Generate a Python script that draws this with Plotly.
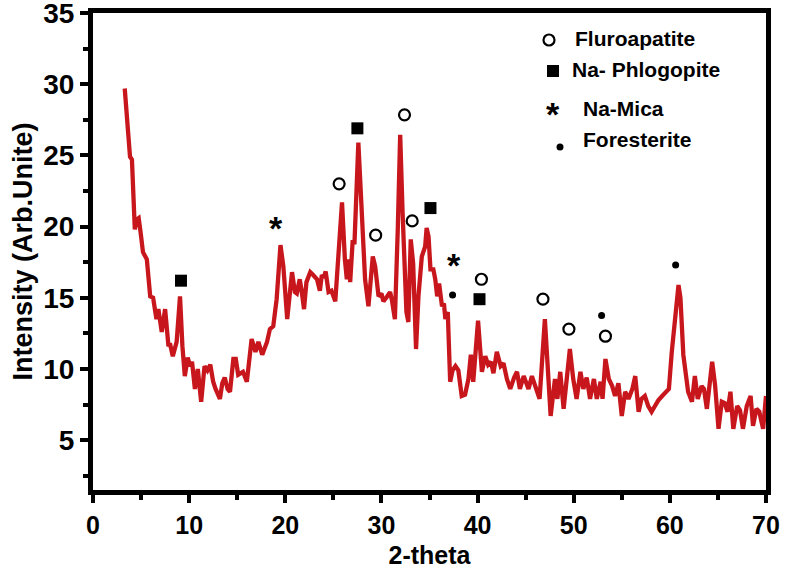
import plotly.graph_objects as go

# ---- XRD pattern ----
two_theta = [3.3, 3.6, 3.85, 4.05, 4.35, 4.55, 4.75, 4.95, 5.2, 5.6, 5.95, 6.25, 6.6, 6.8, 7.15, 7.5, 7.7, 7.85, 8.0, 8.3,
             8.7, 9.05, 9.3, 9.55, 9.85, 10.1, 10.3, 10.6, 10.9, 11.25, 11.6, 11.9, 12.2, 12.5, 12.75, 13.2, 13.45, 13.7, 14.0, 14.25,
             14.6, 14.85, 15.1, 15.6, 16.0, 16.5, 16.9, 17.2, 17.6, 18.1, 18.4, 18.75, 19.1, 19.5, 19.8, 20.2, 20.7, 21.0, 21.2, 21.5,
             21.7, 21.95, 22.2, 22.6, 22.9, 23.3, 23.6, 23.8, 24.0, 24.2, 24.5, 24.8, 25.2, 25.35, 25.5, 25.9, 26.2, 26.4, 26.6, 26.75,
             27.0, 27.2, 27.6, 27.95, 28.3, 28.65, 29.1, 29.35, 29.7, 30.0, 30.2, 30.5, 30.9, 31.1, 31.4, 31.7, 31.95, 32.2, 32.6, 32.8,
             33.05, 33.3, 33.6, 33.85, 34.2, 34.55, 34.7, 34.9, 35.1, 35.4, 35.6, 35.8, 36.0, 36.3, 36.5, 36.65, 36.9, 37.15, 37.4, 37.7,
             38.0, 38.35, 38.7, 39.05, 39.3, 39.55, 40.05, 40.45, 40.8, 41.1, 41.4, 41.65, 42.0, 42.4, 42.7, 43.05, 43.4, 43.8, 44.1, 44.4,
             44.8, 45.3, 45.65, 46.2, 46.45, 47.0, 47.35, 47.6, 48.05, 48.3, 48.6, 48.95, 49.6, 49.95, 50.3, 50.7, 51.0, 51.35, 51.7, 52.1,
             52.4, 52.8, 53.0, 53.3, 53.65, 54.0, 54.3, 54.65, 55.0, 55.35, 55.7, 56.1, 56.4, 56.75, 57.05, 57.4, 57.75, 58.1, 58.45, 58.8,
             59.2, 59.55, 59.9, 60.2, 60.55, 60.9, 61.1, 61.4, 61.9, 62.3, 62.6, 62.9, 63.3, 63.55, 63.85, 64.4, 64.7, 65.06, 65.4, 65.7,
             66.0, 66.3, 66.6, 67.0, 67.3, 67.6, 68.0, 68.4, 68.65, 69.0, 69.3, 69.7, 70.0]
intensity = [29.7, 27.2, 24.9, 24.7, 19.8, 20.5, 20.6, 19.6, 18.2, 17.7, 15.1, 15.0, 13.5, 14.2, 12.6, 14.2, 12.1, 11.6, 11.8, 10.9,
             11.9, 15.1, 11.6, 9.5, 10.8, 10.2, 10.5, 8.6, 10.0, 7.7, 10.2, 9.9, 10.3, 9.1, 8.6, 7.9, 9.0, 9.4, 8.6, 8.4,
             10.7, 10.7, 9.6, 9.8, 9.1, 12.1, 11.2, 11.9, 11.0, 11.9, 12.8, 13.0, 14.9, 18.7, 17.2, 13.5, 16.8, 15.4, 15.3, 16.3,
             15.5, 14.2, 16.1, 16.8, 16.6, 16.3, 15.5, 16.6, 16.4, 16.85, 15.4, 15.5, 14.75, 16.3, 17.0, 21.7, 17.7, 16.3, 17.7, 16.1,
             18.9, 18.9, 25.9, 21.0, 16.3, 14.4, 17.9, 17.2, 15.1, 15.3, 14.75, 15.0, 15.4, 14.8, 13.5, 19.8, 26.45, 21.0, 14.0, 13.3,
             19.1, 17.4, 11.4, 15.1, 17.9, 18.6, 19.9, 19.3, 17.0, 17.0, 16.3, 15.1, 16.0, 14.4, 14.6, 13.5, 14.0, 9.1, 9.9, 10.2,
             9.9, 8.1, 8.2, 9.3, 11.0, 9.1, 13.4, 9.8, 10.9, 10.3, 10.5, 9.7, 11.2, 10.2, 10.4, 9.3, 8.6, 9.4, 9.8, 8.6,
             9.5, 8.6, 9.5, 8.4, 7.9, 13.5, 9.8, 6.7, 9.3, 7.9, 9.8, 7.2, 11.4, 9.3, 7.9, 9.8, 8.6, 9.4, 7.9, 9.3,
             7.9, 9.1, 7.9, 10.7, 9.3, 8.8, 8.1, 9.0, 6.7, 8.4, 7.9, 8.6, 9.5, 7.0, 7.9, 8.1, 7.4, 7.0, 7.4, 7.8,
             8.1, 8.4, 8.6, 11.2, 14.0, 15.9, 15.0, 11.0, 8.4, 7.7, 9.5, 7.9, 8.8, 8.6, 7.2, 10.5, 8.9, 5.8, 7.7, 7.6,
             7.0, 8.4, 5.8, 7.4, 7.1, 5.8, 7.4, 8.1, 6.0, 7.2, 7.0, 5.8, 8.1]

# ---- phase identification marks ----
fluoro_x = [25.6, 29.4, 32.4, 33.2, 40.4, 46.8, 49.5, 53.3]
fluoro_y = [23.0, 19.4, 27.85, 20.4, 16.3, 14.9, 12.8, 12.3]
phlog_x = [9.15, 27.5, 35.1, 40.2]
phlog_y = [16.2, 26.9, 21.3, 14.9]
mica_x = [19.0, 37.5]
mica_y = [20.2, 17.55]
forst_x = [37.4, 52.9, 60.6]
forst_y = [15.2, 13.75, 17.3]

legend_labels = ["Fluroapatite", "Na- Phlogopite", "Na-Mica", "Foresterite"]

x_ticks = [0, 10, 20, 30, 40, 50, 60, 70]
y_ticks = [5, 10, 15, 20, 25, 30, 35]

FONT = "Liberation Sans"
W, H = 787, 569
ML, MR, MT, MB = 93, 21, 13, 79
PW, PH = W - ML - MR, H - MT - MB


def px(xp):  # page pixel -> paper x
    return (xp - ML) / PW


def py(yp):  # page pixel -> paper y
    return (H - MB - yp) / PH


fig = go.Figure()
fig.add_trace(go.Scatter(x=two_theta, y=intensity, mode="lines",
                         line=dict(color="#C8161D", width=4.3), hoverinfo="skip"))
fig.add_trace(go.Scatter(x=fluoro_x, y=fluoro_y, mode="markers",
                         marker=dict(symbol="circle-open", size=11, color="black", line=dict(width=2.2, color="black"))))
fig.add_trace(go.Scatter(x=phlog_x, y=phlog_y, mode="markers",
                         marker=dict(symbol="square", size=12, color="black")))
fig.add_trace(go.Scatter(x=forst_x, y=forst_y, mode="markers",
                         marker=dict(symbol="circle", size=7, color="black")))

annotations = []
for mx, my in zip(mica_x, mica_y):
    annotations.append(dict(x=mx, y=my, xref="x", yref="y", text="<b>*</b>", showarrow=False,
                            xanchor="center", yanchor="middle",
                            font=dict(family=FONT, size=34, color="black"), yshift=-4))

# legend (drawn as text + shapes in paper coordinates)
shapes = []
shapes.append(dict(type="circle", xref="paper", yref="paper", x0=px(543.5), x1=px(554.5), y0=py(45.5), y1=py(34.5),
                   line=dict(color="black", width=2.2)))
shapes.append(dict(type="rect", xref="paper", yref="paper", x0=px(547), x1=px(559), y0=py(77), y1=py(65),
                   line=dict(width=0), fillcolor="black"))
shapes.append(dict(type="circle", xref="paper", yref="paper", x0=px(556.5), x1=px(563.5), y0=py(150.5), y1=py(143.5),
                   line=dict(width=0), fillcolor="black"))
annotations.append(dict(x=px(553), y=py(110), xref="paper", yref="paper", text="<b>*</b>", showarrow=False,
                        xanchor="center", yanchor="middle",
                        font=dict(family=FONT, size=34, color="black"), yshift=-4))
leg_pos = [(573, 39), (570, 69), (581, 109), (581, 139)]
for lab, (lx, ly) in zip(legend_labels, leg_pos):
    annotations.append(dict(x=px(lx), y=py(ly), xref="paper", yref="paper", text="<b>" + lab + "</b>",
                            showarrow=False, xanchor="left", yanchor="middle",
                            font=dict(family=FONT, size=21, color="black")))

fig.update_layout(
    width=W, height=H,
    margin=dict(l=ML, r=MR, t=MT, b=MB, autoexpand=False),
    paper_bgcolor="white", plot_bgcolor="white",
    showlegend=False,
    font=dict(family=FONT, color="black"),
    shapes=shapes, annotations=annotations,
    xaxis=dict(range=[0, 70], tickvals=x_ticks, ticktext=[str(v) for v in x_ticks], automargin=False,
               ticks="outside", ticklen=8, tickwidth=4, tickcolor="black",
               minor=dict(dtick=5, tick0=0, ticks="outside", ticklen=5, tickwidth=4, tickcolor="black"),
               showline=True, linewidth=5, linecolor="black", mirror=True,
               showgrid=False, zeroline=False, ticklabelstandoff=1, ticklabeloverflow="allow",
               tickfont=dict(family=FONT, size=25, color="black", weight="bold"),
               title=dict(text="<b>2-theta</b>", font=dict(family=FONT, size=25, color="black"), standoff=11)),
    yaxis=dict(range=[1.5, 35], tickvals=y_ticks, ticktext=[str(v) for v in y_ticks], automargin=False,
               ticks="outside", ticklen=8, tickwidth=4, tickcolor="black",
               minor=dict(dtick=2.5, tick0=0, ticks="outside", ticklen=5, tickwidth=4, tickcolor="black"),
               showline=True, linewidth=5, linecolor="black", mirror=True,
               showgrid=False, zeroline=False, ticklabelstandoff=0, ticklabeloverflow="allow",
               tickfont=dict(family=FONT, size=28, color="black", weight="bold"),
               title=dict(text="<b>Intensity (Arb.Unite)</b>", font=dict(family=FONT, size=27, color="black"), standoff=4)),
)

# remove the default 8 px page margin so the figure sits at the window's top-left corner
fig.write_html("out.html", config={"displayModeBar": False},
               post_script="document.body.style.margin='0px';")
